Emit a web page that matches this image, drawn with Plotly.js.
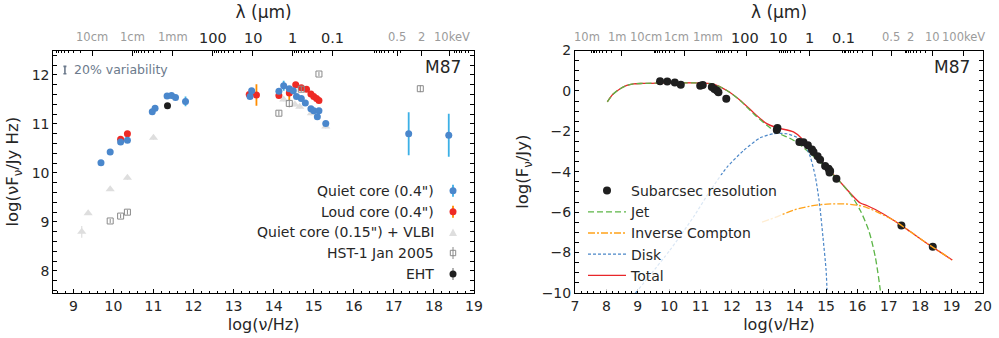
<!DOCTYPE html>
<html>
<head>
<meta charset="utf-8">
<script src="https://cdn.plot.ly/plotly-3.0.1.min.js"></script>
<style>html,body{margin:0;padding:0;background:#fff;}#chart{width:999px;height:338px;}</style>
</head>
<body>
<div id="chart"></div>
<script>
// ---------------- DATA (left panel) ----------------
const quietNu  = [9.69, 9.92, 10.18, 10.35, 10.97, 11.04, 11.34, 11.45, 11.55, 11.80, 13.41, 13.45, 14.13, 14.25, 14.39, 14.49, 14.57, 14.69, 14.79, 14.93, 15.00, 15.13, 15.09, 15.30, 17.37, 18.37];
const quietVal = [10.21, 10.43, 10.63, 10.67, 11.25, 11.32, 11.57, 11.58, 11.54, 11.46, 11.56, 11.68, 11.67, 11.78, 11.72, 11.68, 11.56, 11.52, 11.43, 11.31, 11.27, 11.27, 11.15, 11.01, 10.80, 10.77];
const quietErr = [0.02, 0.02, 0.02, 0.02, 0.02, 0.02, 0.02, 0.02, 0.02, 0.10, 0.03, 0.03, 0.03, 0.10, 0.03, 0.03, 0.03, 0.03, 0.03, 0.03, 0.03, 0.03, 0.03, 0.03, 0.44, 0.44];

const loudNu  = [10.18, 10.35, 13.39, 13.57, 14.13, 14.39, 14.55, 14.69, 14.82, 14.93, 15.00, 15.07, 15.13];
const loudVal = [10.69, 10.80, 11.60, 11.59, 11.58, 11.63, 11.80, 11.74, 11.71, 11.61, 11.56, 11.52, 11.48];
const loudErr = [0.02, 0.02, 0.03, 0.22, 0.03, 0.14, 0.03, 0.03, 0.03, 0.03, 0.03, 0.03, 0.03];

const vlbiNu  = [9.21, 9.37, 9.92, 10.35, 11.00, 14.25, 14.53, 14.65, 14.94, 15.30];
const vlbiVal = [8.80, 9.18, 9.67, 9.90, 10.72, 11.50, 11.40, 11.35, 11.22, 10.95];
const vlbiErr = [0.12, 0.04, 0.04, 0.04, 0.04, 0.04, 0.04, 0.04, 0.04, 0.04];

const hstNu  = [9.92, 10.18, 10.35, 14.13, 14.39, 14.69, 15.13, 17.66];
const hstVal = [9.02, 9.12, 9.20, 11.22, 11.42, 11.71, 12.02, 11.72];
const hstErr = [0.04, 0.04, 0.05, 0.05, 0.08, 0.05, 0.04, 0.07];

const ehtNu  = [11.35];
const ehtVal = [11.37];

const variabilityNu  = [8.79];
const variabilityVal = [12.10];
const variabilityErr = [0.075];

// ---------------- DATA (right panel) ----------------
const subNu  = [9.71, 9.94, 10.18, 10.37, 10.99, 11.07, 11.36, 11.44, 11.52, 11.57, 11.82, 13.45, 13.43, 14.15, 14.28, 14.42, 14.55, 14.60, 14.73, 14.81, 14.97, 15.08, 15.13, 15.11, 15.33, 17.40, 18.40];
const subVal = [0.48, 0.47, 0.42, 0.31, 0.26, 0.29, 0.19, 0.09, 0.02, -0.06, -0.39, -1.83, -1.93, -2.53, -2.54, -2.69, -2.90, -3.02, -3.23, -3.40, -3.71, -3.85, -3.96, -4.04, -4.35, -6.66, -7.71];

const jetNu  = [8.03, 8.20, 8.44, 8.65, 8.86, 9.18, 10.00, 10.80, 11.09, 11.41, 11.84, 12.26, 12.69, 13.11, 13.43, 13.96, 14.39, 14.81, 15.35, 15.77, 16.09, 16.36, 16.57, 16.73];
const jetVal = [-0.54, -0.18, 0.11, 0.27, 0.35, 0.37, 0.40, 0.40, 0.39, 0.34, 0.02, -0.47, -1.13, -1.70, -2.05, -2.44, -2.95, -3.53, -4.35, -5.09, -5.92, -6.91, -8.23, -9.88];

const icNu  = [12.96, 13.43, 13.96, 14.50, 15.03, 15.56, 15.98, 16.30, 16.73, 17.15, 17.69, 18.22, 18.75, 19.02];
const icVal = [-6.49, -6.23, -5.90, -5.70, -5.60, -5.59, -5.65, -5.77, -6.07, -6.40, -6.97, -7.55, -8.09, -8.37];

const diskNu  = [8.93, 10.03, 10.77, 11.31, 11.84, 12.37, 12.90, 13.33, 13.75, 14.18, 14.28, 14.50, 14.66, 14.79, 14.90, 15.00, 15.03];
const diskVal = [-10.0, -7.87, -6.25, -4.93, -3.78, -2.95, -2.32, -2.12, -2.12, -2.37, -2.53, -3.27, -4.26, -5.57, -7.22, -8.86, -9.85];

const totNu  = [8.03, 8.20, 8.44, 8.65, 8.86, 9.18, 10.00, 10.80, 11.09, 11.41, 11.84, 12.26, 12.69, 13.11, 13.43, 13.96, 14.23, 14.50, 14.81, 15.35, 15.77, 16.09, 16.30, 16.57, 17.15, 17.69, 18.22, 18.75, 19.02];
const totVal = [-0.54, -0.18, 0.11, 0.27, 0.35, 0.37, 0.40, 0.40, 0.39, 0.34, 0.02, -0.46, -1.08, -1.62, -1.82, -2.03, -2.36, -2.94, -3.43, -4.33, -5.06, -5.55, -5.67, -5.87, -6.40, -6.97, -7.55, -8.09, -8.37];

// ---------------- TICK LABELS (top wavelength / energy axes) ----------------
const leftRadioLabels  = ['10cm', '1cm', '1mm'];   const leftRadioLambdaUm = [1e5, 1e4, 1e3];
const leftIRLabels     = ['100', '10', '1', '0.1']; const leftIRLambdaUm    = [100, 10, 1, 0.1];
const leftXLabels      = ['0.5', '2', '10keV'];     const leftXkeV          = [0.5, 2, 10];

const rightRadioLabels = ['10m', '1m', '10cm', '1cm', '1mm']; const rightRadioLambdaUm = [1e7, 1e6, 1e5, 1e4, 1e3];
const rightIRLabels    = ['100', '10', '1', '0.1'];           const rightIRLambdaUm    = [100, 10, 1, 0.1];
const rightXLabels     = ['0.5', '2', '10', '100keV'];        const rightXkeV          = [0.5, 2, 10, 100];

// ---------------- helpers ----------------
const C_UM = 2.99792458e14;
const nuL = l => Math.log10(C_UM / l);
const nuE = e => Math.log10(e * 1000 * 1.602176634e-19 / 6.62607015e-34);
const W = 999, H = 338;
const PX = x => x / W, PY = y => (H - y) / H;
const FONT = 'DejaVu Sans, Liberation Sans, sans-serif';
const TXT = '#262626';

const L = {x0: 53.3, x1: 474, y0: 50.5, y1: 293};
const R = {x0: 575, x1: 983, y0: 50.5, y1: 293};
const leftRange = [8.5, 19], rightRange = [7, 20];

function minorClusters(starts, range) {
  const out = [];
  starts.forEach(d => { for (let k = 2; k <= 9; k++) { const v = d + 1 - Math.log10(k); if (v > range[0] && v < range[1]) out.push(v); } });
  return out;
}

// ---------------- traces ----------------
const COL = {blue: '#4a87cc', lblue: '#3cb0e6', red: '#ee2a25', orange: '#ff8c00', tri: '#dedede', hst: '#8a8a8a', eht: '#1f1f1f',
             green: '#5cb547', ic: '#ffa31a', disk: '#4a86c8', tot: '#e8262a'};

const traces = [
  {x: vlbiNu, y: vlbiVal, xaxis: 'x', yaxis: 'y', mode: 'markers', type: 'scatter', showlegend: false,
   marker: {symbol: 'triangle-up', size: 8, color: COL.tri},
   error_y: {type: 'data', array: vlbiErr, color: COL.tri, thickness: 1.2, width: 0}},
  {x: loudNu, y: loudVal, xaxis: 'x', yaxis: 'y', mode: 'markers', type: 'scatter', showlegend: false,
   marker: {size: 7, color: COL.red},
   error_y: {type: 'data', array: loudErr, color: COL.orange, thickness: 1.8, width: 0}},
  {x: quietNu, y: quietVal, xaxis: 'x', yaxis: 'y', mode: 'markers', type: 'scatter', showlegend: false,
   marker: {size: 7, color: COL.blue},
   error_y: {type: 'data', array: quietErr, color: COL.lblue, thickness: 1.8, width: 0}},
  {x: hstNu, y: hstVal, xaxis: 'x', yaxis: 'y', mode: 'markers', type: 'scatter', showlegend: false,
   marker: {symbol: 'square-open', size: 6, color: COL.hst, line: {width: 1}},
   error_y: {type: 'data', array: hstErr, color: COL.hst, thickness: 1, width: 0}},
  {x: ehtNu, y: ehtVal, xaxis: 'x', yaxis: 'y', mode: 'markers', type: 'scatter', showlegend: false,
   marker: {size: 7, color: COL.eht}},
  // the variability bar lives on the top (wavelength) axis, which shares the frequency range
  {x: variabilityNu, y: variabilityVal, xaxis: 'x3', yaxis: 'y', mode: 'markers', type: 'scatter', showlegend: false,
   marker: {size: 1, color: 'rgba(0,0,0,0)'},
   error_y: {type: 'data', array: variabilityErr, color: '#6c7a8c', thickness: 1.6, width: 1.5}},

  // right panel
  {x: totNu, y: totVal, xaxis: 'x2', yaxis: 'y2', mode: 'lines', type: 'scatter', name: 'Total', legendrank: 5, legendgroup: 'g5',
   line: {color: COL.tot, width: 1.3, shape: 'spline', smoothing: 0.8}},
  {x: jetNu, y: jetVal, xaxis: 'x2', yaxis: 'y2', mode: 'lines', type: 'scatter', name: 'Jet', legendrank: 2, legendgroup: 'g2',
   line: {color: COL.green, width: 1.3, dash: '6px,3px', shape: 'spline', smoothing: 0.8}},
  {x: icNu, y: icVal, xaxis: 'x4', yaxis: 'y2', mode: 'lines', type: 'scatter', name: 'Inverse Compton', legendrank: 3, legendgroup: 'g3',
   line: {color: COL.ic, width: 1.3, dash: '7px,2px,2px,2px', shape: 'spline', smoothing: 0.8}},
  {x: diskNu, y: diskVal, xaxis: 'x2', yaxis: 'y2', mode: 'lines', type: 'scatter', name: 'Disk', legendrank: 4, legendgroup: 'g4',
   line: {color: COL.disk, width: 1.2, dash: '3px,2px', shape: 'spline', smoothing: 0.6}},
  {x: subNu, y: subVal, xaxis: 'x2', yaxis: 'y2', mode: 'markers', type: 'scatter', name: 'Subarcsec resolution', legendrank: 1, legendgroup: 'g1',
   marker: {size: 8, color: COL.eht}}
];

// ---------------- axes ----------------
const tickFont = {family: FONT, size: 14, color: TXT};
function baseAxis(extra) {
  return Object.assign({showline: true, linecolor: 'black', linewidth: 1, showgrid: false, zeroline: false,
    ticks: 'inside', ticklen: 4, tickwidth: 1, tickcolor: 'black', tickfont: tickFont, automargin: false}, extra);
}
const dom = (a, b) => [a / W, b / W];
const ydom = [PY(L.y1), PY(L.y0)];

const leftTopMajor = leftRadioLambdaUm.concat(leftIRLambdaUm).map(nuL).concat(leftXkeV.map(nuE));
const rightTopMajor = [1e6, 1e4, 100, 1, 0.01].map(nuL).concat([0.5, 10, 100].map(nuE));
const leftTopMinor = minorClusters([8.477, 10.477, 12.477, 14.477, 16.477, 18.477], leftRange);
const rightTopMinor = minorClusters([7.477, 9.477, 11.477, 13.477, 15.477, 17.477], rightRange);
const lamTitle = {text: 'λ (μm)', font: {family: FONT, size: 17, color: TXT}, standoff: 26};

const layout = {
  width: W, height: H, margin: {l: 0, r: 0, t: 0, b: 0},
  paper_bgcolor: '#fff', plot_bgcolor: '#fff',
  font: {family: FONT, color: TXT},
  xaxis: baseAxis({domain: dom(L.x0, L.x1), anchor: 'y', range: leftRange, dtick: 1, tick0: 0,
    minor: {dtick: 0.2, tick0: 0, ticks: 'inside', ticklen: 2, tickcolor: 'black'},
    title: {text: 'log(ν/Hz)', font: {family: FONT, size: 16, color: TXT}, standoff: 6}}),
  yaxis: baseAxis({domain: ydom, anchor: 'x', range: [7.55, 12.5], dtick: 1, tick0: 0, mirror: 'allticks',
    minor: {dtick: 0.2, tick0: 0, ticks: 'inside', ticklen: 2, tickcolor: 'black'},
    title: {text: 'log(νF<sub>ν</sub>/Jy Hz)', font: {family: FONT, size: 16.5, color: TXT}, standoff: 8}}),
  xaxis3: baseAxis({overlaying: 'x', side: 'top', anchor: 'y', range: leftRange, tickmode: 'array',
    tickvals: leftTopMajor, showticklabels: false, ticklen: 5, title: lamTitle,
    minor: {tickmode: 'array', tickvals: leftTopMinor, ticks: 'inside', ticklen: 2.5, tickcolor: 'black'}}),
  xaxis2: baseAxis({domain: dom(R.x0, R.x1), anchor: 'y2', range: rightRange, dtick: 1, tick0: 0,
    minor: {dtick: 0.2, tick0: 0, ticks: 'inside', ticklen: 2, tickcolor: 'black'},
    title: {text: 'log(ν/Hz)', font: {family: FONT, size: 16, color: TXT}, standoff: 6}}),
  yaxis2: baseAxis({domain: ydom, anchor: 'x2', range: [-10, 2], dtick: 2, tick0: 0, mirror: 'allticks',
    minor: {dtick: 0.5, tick0: 0, ticks: 'inside', ticklen: 2, tickcolor: 'black'},
    title: {text: 'log(F<sub>ν</sub>/Jy)', font: {family: FONT, size: 16.5, color: TXT}, standoff: 8}}),
  xaxis4: baseAxis({overlaying: 'x2', side: 'top', anchor: 'y2', range: rightRange, tickmode: 'array',
    tickvals: rightTopMajor, showticklabels: false, ticklen: 5, title: lamTitle,
    minor: {tickmode: 'array', tickvals: rightTopMinor, ticks: 'inside', ticklen: 2.5, tickcolor: 'black'}}),
  legend: {x: PX(583), y: PY(175), xanchor: 'left', yanchor: 'top', bgcolor: 'rgba(255,255,255,0.8)', borderwidth: 0,
    font: {family: FONT, size: 14, color: TXT}, itemwidth: 38, traceorder: 'normal', tracegroupgap: 0},
  annotations: [],
  shapes: []
};

const ann = layout.annotations;
function topLabel(text, nu, xref, gray, xshift) {
  ann.push({text: text, x: nu, xref: xref, y: PY(gray ? 37.5 : 38.5), yref: 'paper', xanchor: 'center', yanchor: 'middle',
    showarrow: false, xshift: xshift || 0,
    font: {family: FONT, size: gray ? 11.5 : 14.5, color: gray ? '#9b9b9b' : TXT}});
}
leftRadioLabels.forEach((t, i) => topLabel(t, nuL(leftRadioLambdaUm[i]), 'x', true));
leftIRLabels.forEach((t, i) => topLabel(t, nuL(leftIRLambdaUm[i]), 'x', false));
leftXLabels.forEach((t, i) => topLabel(t, nuE(leftXkeV[i]), 'x', true, i === 2 ? 3 : 0));
const rightRadioShift = [-3, -4, -7, -8, -8];
rightRadioLabels.forEach((t, i) => topLabel(t, nuL(rightRadioLambdaUm[i]), 'x2', true, rightRadioShift[i]));
rightIRLabels.forEach((t, i) => topLabel(t, nuL(rightIRLambdaUm[i]), 'x2', false, i === 0 ? -2 : (i === 3 ? 2 : 0)));
rightXLabels.forEach((t, i) => topLabel(t, nuE(rightXkeV[i]), 'x2', true, 0));

ann.push({text: 'M87', x: PX(443), y: PY(67), xref: 'paper', yref: 'paper', showarrow: false,
  xanchor: 'center', yanchor: 'middle', font: {family: FONT, size: 17, color: TXT}});
ann.push({text: 'M87', x: PX(952), y: PY(67), xref: 'paper', yref: 'paper', showarrow: false,
  xanchor: 'center', yanchor: 'middle', font: {family: FONT, size: 17, color: TXT}});
ann.push({text: '20% variability', x: PX(72), y: PY(69.5), xref: 'paper', yref: 'paper', showarrow: false,
  xanchor: 'left', yanchor: 'middle', font: {family: FONT, size: 12.5, color: '#6c7a8c'}});

// ---------------- custom legend (left panel; markers to the right of labels) ----------------
const legLabels = ['Quiet core (0.4")', 'Loud core (0.4")', 'Quiet core (0.15") + VLBI', 'HST-1 Jan 2005', 'EHT'];
const legRows = [190.7, 211.7, 232.4, 253, 274];
const mx = 453;
legLabels.forEach((t, i) => ann.push({text: t, x: PX(436), y: PY(legRows[i]), xref: 'paper', yref: 'paper', showarrow: false,
  xanchor: 'right', yanchor: 'middle', font: {family: FONT, size: 14, color: TXT}}));
const sh = layout.shapes;
function vbar(y, c, w) { sh.push({type: 'line', xref: 'paper', yref: 'paper', x0: PX(mx), x1: PX(mx), y0: PY(y - 6), y1: PY(y + 6), line: {color: c, width: w}}); }
function dot(y, c) { sh.push({type: 'circle', xref: 'paper', yref: 'paper', x0: PX(mx - 3.5), x1: PX(mx + 3.5), y0: PY(y + 3.5), y1: PY(y - 3.5), fillcolor: c, line: {width: 0}}); }
vbar(legRows[0], COL.lblue, 1.8); dot(legRows[0], COL.blue);
vbar(legRows[1], COL.orange, 1.8); dot(legRows[1], COL.red);
sh.push({type: 'path', xref: 'paper', yref: 'paper', fillcolor: COL.tri, line: {width: 0},
  path: `M ${PX(mx - 4)} ${PY(legRows[2] + 3.5)} L ${PX(mx + 4)} ${PY(legRows[2] + 3.5)} L ${PX(mx)} ${PY(legRows[2] - 4)} Z`});
vbar(legRows[3], COL.hst, 1);
sh.push({type: 'rect', xref: 'paper', yref: 'paper', x0: PX(mx - 2.7), x1: PX(mx + 2.7), y0: PY(legRows[3] + 2.7), y1: PY(legRows[3] - 2.7), line: {color: COL.hst, width: 1}});
vbar(legRows[4], '#8a8a8a', 1.3); dot(legRows[4], COL.eht);

Plotly.newPlot('chart', traces, layout, {displayModeBar: false, staticPlot: true});
</script>
</body>
</html>
